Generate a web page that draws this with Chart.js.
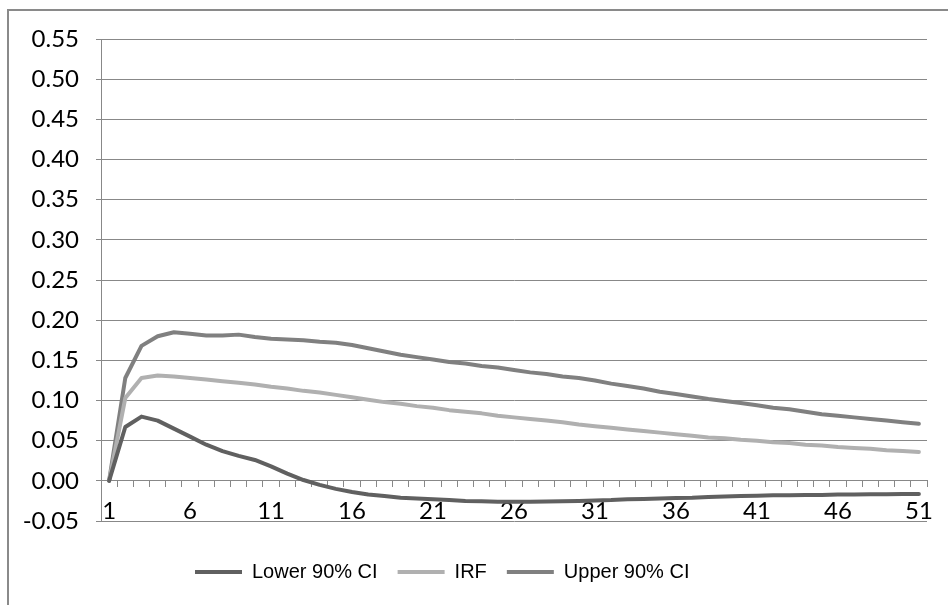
<!DOCTYPE html>
<html>
<head>
<meta charset="utf-8">
<script src="https://cdn.jsdelivr.net/npm/chart.js@4/dist/chart.umd.min.js"></script>
<style>
  html, body { margin: 0; padding: 0; background: #fff; overflow: hidden; }
  #frame {
    position: absolute; left: 7px; top: 9px; width: 1000px; height: 700px;
    border-left: 2px solid #8a8a8a; border-top: 2px solid #8a8a8a;
  }
  #wrap { position: absolute; left: 0; top: 0; width: 948px; height: 605px; }
</style>
</head>
<body>
<div id="frame"></div>
<div id="wrap"><canvas id="chart-area"></canvas></div>
<script>
  var periods = [];
  for (var i = 1; i <= 51; i++) periods.push(String(i));

  var lowerCI = [
    0, 0.067, 0.080, 0.075, 0.065, 0.055, 0.045, 0.037, 0.031, 0.026,
    0.018, 0.009, 0.001, -0.005, -0.010, -0.014, -0.017, -0.019, -0.021, -0.022,
    -0.023, -0.024, -0.025, -0.0255, -0.026, -0.026, -0.026, -0.0258, -0.0255, -0.025,
    -0.0245, -0.024, -0.023, -0.0225, -0.022, -0.0215, -0.021, -0.020, -0.0195, -0.019,
    -0.0185, -0.018, -0.018, -0.0175, -0.0175, -0.017, -0.017, -0.0168, -0.0166, -0.0165,
    -0.0165
  ];
  var irf = [
    0, 0.103, 0.128, 0.131, 0.130, 0.128, 0.126, 0.124, 0.122, 0.120,
    0.117, 0.115, 0.112, 0.110, 0.107, 0.104, 0.101, 0.098, 0.096, 0.093,
    0.091, 0.088, 0.086, 0.084, 0.081, 0.079, 0.077, 0.075, 0.073, 0.070,
    0.068, 0.066, 0.064, 0.062, 0.060, 0.058, 0.056, 0.054, 0.053, 0.051,
    0.050, 0.048, 0.047, 0.045, 0.044, 0.042, 0.041, 0.040, 0.038, 0.037,
    0.036
  ];
  var upperCI = [
    0, 0.128, 0.168, 0.180, 0.185, 0.183, 0.181, 0.181, 0.182, 0.179,
    0.177, 0.176, 0.175, 0.173, 0.172, 0.169, 0.165, 0.161, 0.157, 0.154,
    0.151, 0.148, 0.146, 0.143, 0.141, 0.138, 0.135, 0.133, 0.130, 0.128,
    0.125, 0.121, 0.118, 0.115, 0.111, 0.108, 0.105, 0.102, 0.0995, 0.097,
    0.094, 0.091, 0.089, 0.086, 0.083, 0.081, 0.079, 0.077, 0.075, 0.073,
    0.071
  ];

  var gridGrey = '#888888';
  var legendStart = 195;
  var legendGap = 21;

  // move legend so it sits where the original one does
  var legendShift = {
    id: 'legendShift',
    beforeDraw: function(chart) {
      var lg = chart.legend;
      var w = lg.width, h = lg.height;
      lg.left = legendStart - lg.options.labels.padding;
      lg.right = lg.left + w;
      lg.top = chart.chartArea.bottom + legendGap;
      lg.bottom = lg.top + h;
    }
  };

  function line(label, data, color) {
    return {
      label: label,
      data: data,
      borderColor: color,
      backgroundColor: color,
      borderWidth: 4,
      borderCapStyle: 'round',
      borderJoinStyle: 'round',
      pointRadius: 0,
      pointStyle: 'line',
      tension: 0,
      fill: false
    };
  }

  var config = {
    type: 'line',
    data: {
      labels: periods,
      datasets: [
        line('Lower 90% CI', lowerCI, '#606060'),
        line('IRF', irf, '#b0b0b0'),
        line('Upper 90% CI', upperCI, '#808080')
      ]
    },
    options: {
      responsive: true,
      maintainAspectRatio: false,
      animation: false,
      layout: { padding: { left: 0, right: 21, top: 39, bottom: 34 } },
      plugins: {
        legend: {
          position: 'bottom',
          align: 'start',
          labels: {
            usePointStyle: true,
            pointStyleWidth: 47,
            boxHeight: 4,
            padding: 20,
            color: '#000',
            font: { family: 'Liberation Sans', size: 20 }
          }
        },
        tooltip: { enabled: false }
      },
      scales: {
        x: {
          type: 'category',
          position: { y: 0 },
          offset: true,
          grid: {
            offset: true,
            drawOnChartArea: false,
            tickLength: 6,
            color: gridGrey
          },
          border: { color: gridGrey, width: 1 },
          ticks: {
            autoSkip: false,
            maxRotation: 0,
            padding: 10,
            color: '#000',
            font: { family: 'Lato', size: 24 },
            callback: function(v, i) { return i % 5 === 0 ? periods[i] : ''; }
          }
        },
        y: {
          min: -0.05,
          max: 0.55,
          afterFit: function(scale) { scale.width = 101; },
          grid: { color: gridGrey, tickLength: 5 },
          border: { color: gridGrey, width: 1 },
          ticks: {
            stepSize: 0.05,
            padding: 17,
            color: '#000',
            font: { family: 'Lato', size: 24 },
            callback: function(v) { return Number(v).toFixed(2); }
          }
        }
      }
    },
    plugins: [legendShift]
  };

  window.onload = function() {
    var ctx = document.getElementById('chart-area').getContext('2d');
    window.myLine = new Chart(ctx, config);
  };
</script>
</body>
</html>
